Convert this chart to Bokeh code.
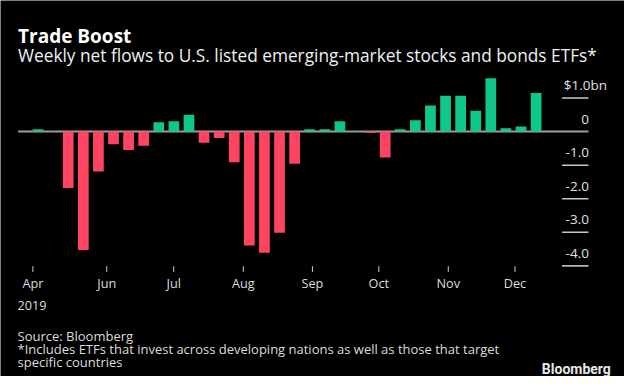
from bokeh.plotting import figure
from bokeh.models import ColumnDataSource, Range1d, Label, LabelSet
from bokeh.core.properties import value
from bokeh.embed import file_html
from bokeh.resources import INLINE

# ---- data (weekly net flows, $bn) ----
flows = [0.07, 0.01, -1.68, -3.53, -1.19, -0.38, -0.55, -0.42, 0.28, 0.31,
         0.50, -0.33, -0.19, -0.91, -3.39, -3.61, -3.01, -0.96, 0.07, 0.07,
         0.31, 0.01, -0.03, -0.77, 0.07, 0.34, 0.78, 1.07, 1.07, 0.62,
         1.59, 0.10, 0.15, 1.15]
week = list(range(len(flows)))
month_labels = ["Apr", "Jun", "Jul", "Aug", "Sep", "Oct", "Nov", "Dec"]
month_pos = [-0.34, 4.55, 8.99, 13.60, 18.18, 22.58, 27.18, 31.60]
y_ticks = [1, 0, -1, -2, -3, -4]
y_tick_labels = ["$1.0bn", "0", "-1.0", "-2.0", "-3.0", "-4.0"]

GREEN = "#0fc887"
RED = "#ff4462"
FONT = "Open Sans"

W, H = 624, 376
SX, SY = W / 640, H / 392

p = figure(width=W, height=H, output_backend="svg", toolbar_location=None,
           x_range=Range1d(-2.487, 38.856), y_range=Range1d(-7.295, 3.906),
           min_border=0, x_axis_location=None, y_axis_location=None,
           background_fill_color="black", border_fill_color="black",
           outline_line_color=None)
p.xgrid.visible = False
p.ygrid.visible = False

def top(py):
    # reference y (from top) -> canvas screen y (from bottom)
    return H - py * SY

def left(px):
    return px * SX

# zero line
p.segment(x0=[-1.324], y0=[0], x1=[36.47], y1=[0], line_color="#9d9d9d", line_width=2)

# bars
src = ColumnDataSource(dict(x=week, top=flows,
                            color=[GREEN if v >= 0 else RED for v in flows]))
p.vbar(x="x", top="top", bottom=0, width=0.71, fill_color="color",
       line_color=None, source=src)

# right-side short grid lines
gy = [t for t in y_ticks if t != 0]
p.segment(x0=[34.72] * len(gy), x1=[36.47] * len(gy), y0=gy, y1=gy,
          line_color="#c8c8c8", line_width=1.6)

# y tick labels
ysrc = ColumnDataSource(dict(
    x=[left(622) if t.endswith("bn") else left(603.5) for t in y_tick_labels],
    y=y_ticks, text=y_tick_labels))
p.add_layout(LabelSet(x="x", y="y", text="text", source=ysrc,
                      x_units="screen", y_units="data", y_offset=8,
                      text_align="right", text_baseline="alphabetic",
                      text_font=value(FONT), text_font_size="13.5px",
                      text_color="#e0e0e0"))

# x ticks
p.segment(x0=month_pos, x1=month_pos, y0=[-4.009] * len(month_pos),
          y1=[-4.18] * len(month_pos), line_color="#cfcfcf", line_width=1)
msrc = ColumnDataSource(dict(x=month_pos, text=month_labels))
p.add_layout(LabelSet(x="x", y=top(300), text="text", source=msrc,
                      x_units="data", y_units="screen",
                      text_align="center", text_baseline="alphabetic",
                      text_font=value(FONT), text_font_size="12.7px",
                      text_color="#dcdcdc"))

def lab(txt, x, y, size, color="#e6e6e6", bold=False, align="left", font=FONT):
    p.add_layout(Label(x=left(x), y=top(y), x_units="screen", y_units="screen",
                       text=txt, text_font=font, text_font_size=size,
                       text_color=color, text_align=align,
                       text_baseline="alphabetic",
                       text_font_style="bold" if bold else "normal"))

lab("2019", 17.5, 318, "12.7px", "#dcdcdc")
lab("Trade Boost", 18, 37, "19px", "#ffffff", bold=True)
lab("Weekly net flows to U.S. listed emerging-market stocks and bonds ETFs*",
    18, 57, "17.3px", "#f0f0f0")
lab("Source: Bloomberg", 17.5, 349.5, "13px", "#dcdcdc")
lab("*Includes ETFs that invest across developing nations as well as those that target",
    17.5, 363.5, "13px", "#dcdcdc")
lab("specific countries", 17.5, 377, "13px", "#dcdcdc")
lab("Bloomberg", 626, 384, "14px", "#e8e8e8", bold=True, align="right", font="Roboto")

open("out.html", "w").write(file_html(p, INLINE))
